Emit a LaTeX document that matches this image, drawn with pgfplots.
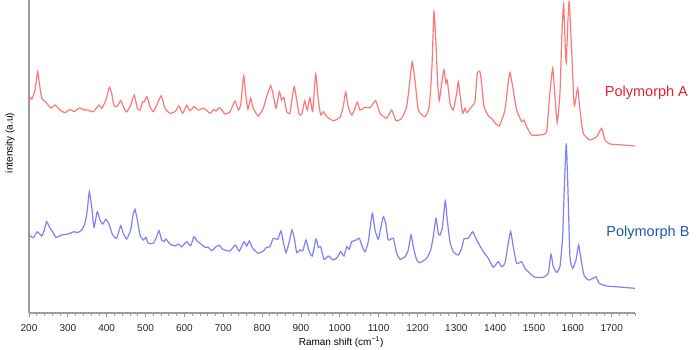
\documentclass[border=0pt]{standalone}
\usepackage{pgfplots}
\pgfplotsset{compat=1.18}
\usepackage{fontspec}
\setmainfont{Liberation Sans}
\definecolor{lineA}{RGB}{255,120,120}
\definecolor{lineB}{RGB}{128,128,250}
\definecolor{txtA}{RGB}{232,30,40}
\definecolor{txtB}{RGB}{25,90,170}
\definecolor{axgray}{RGB}{155,155,155}
\begin{document}
\begin{tikzpicture}[x=1pt,y=1pt]
\path[use as bounding box] (0,0) rectangle (698,349);
\begin{axis}[
  at={(29pt,36pt)}, anchor=south west,
  scale only axis, width=606pt, height=313pt,
  xmin=200, xmax=1760, ymin=0, ymax=313,
  axis x line*=bottom, axis y line*=left,
  x axis line style={-}, y axis line style={-},
  axis line style={axgray, line width=1.3pt},
  ytick=\empty,
  xtick={200,300,...,1700},
  minor xtick={220,240,...,1760},
  tick align=outside,
  major tick length=4pt, minor tick length=2.5pt,
  every tick/.style={axgray, line width=0.8pt},
  /pgf/number format/assume math mode=true,
  /pgf/number format/1000 sep={},
  ticklabel style={font=\fontsize{10}{12}\selectfont, text=black!85},
  xticklabel style={yshift=-4pt},
  xlabel={Raman shift (cm\textsuperscript{−1})},
  ylabel={intensity (a.u)},
  label style={font=\fontsize{10}{12}\selectfont, text=black!85},
  every axis x label/.style={at={(axis description cs:0.515,-0.094)}, anchor=center},
  every axis y label/.style={at={(axis description cs:-0.0314,0.543)}, anchor=center, rotate=90},
  clip=false,
]
\addplot[lineA, line width=1.2pt, smooth, tension=0.3] table {
200.8 217
207 213.7
215.4 223
222.4 241.3
226.5 230
232.7 215
245.6 210
255.9 205
266.9 208
279.8 203
292.7 200.3
305.5 203.7
315.8 201.3
329.5 205
341.6 203
350 203
365.5 201.3
380.2 208
387.1 204.7
398.2 213
406.7 225.7
412.9 219.7
418.8 207
427.3 207
436 212.3
444.5 205
451.5 201
461.8 208
471 218
478.8 204.7
485.7 203
492.7 211.3
496.8 211.3
503.7 216.3
511.5 206.3
520 201.3
528.7 208
540.5 217.3
550 204.7
562.9 199.7
575.8 201.3
586.1 207
595.6 199.7
605.9 207.7
614.4 202.3
624.7 206.3
635.8 203
650.5 204.7
665.9 199.7
676.2 203.7
681.3 202
691.6 205.3
704.5 199
717.4 201.3
730.2 212
738.7 203
744.9 208
752.6 237
758.6 216.3
763.7 203.7
770.6 214.7
777.3 204.7
790.2 197
803.1 204.7
811.8 216.3
822.1 227.3
828.8 218
835.8 204.7
844.3 221.3
850.4 213
856.4 215.3
863.3 201.3
871.8 199.7
877.7 216.3
882.9 226.3
889.1 213
895.8 198
902.7 199.7
909.6 212
916.3 203
923.3 215.3
930.2 201.3
938 239
944.7 213
950.8 198
957.5 201.3
966.3 196.3
983.3 192.3
1000.5 195.7
1009 206.3
1015.2 221
1021.9 206
1030.6 198
1037.3 203
1045 210.7
1052 203
1064.9 205.7
1077.7 205.3
1092.4 212.3
1103.5 199.7
1120.7 194.7
1133.6 203
1144.7 192.3
1159.3 194.7
1172.2 206.3
1180.7 233
1186.6 251.3
1193.6 233
1202.1 203
1219.3 196.3
1230.4 206.3
1237.3 246.3
1242.5 301.3
1247.6 269.7
1252 229.7
1256.1 212.3
1262.3 229.7
1268.2 243
1273.4 229.7
1276.7 233
1283.7 209.7
1292.2 203
1300.9 219.7
1305.1 231.3
1311.2 213
1316.4 199.7
1322.3 204.7
1326.7 200.3
1339.5 206.3
1348 211.3
1353.9 239.7
1360.9 241.3
1365.2 229.7
1371.2 206.3
1384 196.3
1391 194.7
1396.9 191.3
1410.5 187
1425.2 203
1432.2 226.3
1438.1 240.3
1446.6 223
1455.3 203
1468.2 191.3
1474.1 193
1481.1 186.3
1493.9 178
1515.3 178
1532.5 181.3
1539.2 213
1548 244.7
1553.9 216.3
1559.8 190.3
1566.8 219.7
1571.9 279.7
1576.3 309
1580.4 266.3
1583 250.7
1587.4 293
1590.7 311.3
1596.9 263
1603.6 207.3
1612.3 224.7
1618.3 203
1626.8 179.7
1644 173
1661.3 176.3
1674.1 184.7
1682.6 173
1695.5 169
1729.7 168
1759.8 167
};
\addplot[lineB, line width=1.2pt, smooth, tension=0.3] table {
200.8 78
211.1 75.3
221.4 81.3
232.7 77
239.4 83
245.6 91.3
254.1 84.7
261 81.3
269.5 75.7
284.2 78
301.2 79
315.8 81.3
324.3 80.3
335.6 83
344.1 89.7
350.1 103
355.2 121.3
361.4 106.3
367.3 85.7
375.8 101.3
382.8 93
389.7 89
398.2 93.7
406.7 88
415.4 78
425.7 74.7
436 87.3
442.7 79.7
451.5 74
461.8 83
466.9 96.3
472.8 103.7
478.8 93
485.7 78
494.2 73
501.2 75.7
507.1 69.7
520 69.7
528.7 76.3
534.6 82.3
541.6 73
547.5 71.3
552.6 74
562.9 69
575.8 67
584.3 69
593 66.3
605.9 71.3
616.2 67.3
624.7 76.3
631.7 72.3
640.2 69.7
653 65.7
661.5 65.7
670.3 62.3
681.3 66.3
689.8 67.7
698.6 63.7
717.4 62
731 68
741.3 62
753.4 71.3
760.4 67
767.1 72
775.8 64.7
790.2 59.7
803.1 62
811.8 65.7
820.3 66.3
828.8 74.7
840.2 73.7
848.6 82
854.6 71.3
861.5 60.3
870 71.3
877 83
883.9 73
889.1 60.3
897.6 63
904.5 62
913 73
920 63
929.2 57
938.7 74
944.7 65.7
950.8 66.3
959.3 53.7
970.4 57
983.3 53
993.6 55.7
1002.3 61.3
1010.8 57
1017.7 66.3
1024.4 63.7
1030.6 71.3
1039.1 72.3
1050.2 74.7
1056.3 68
1064.9 61.3
1073.4 71.3
1083.7 99.7
1090.6 83
1099.1 73.7
1105.3 84.7
1112 96.3
1118.2 89.7
1124.8 73
1137.7 74.7
1146.5 59.7
1155 53.7
1167.8 56.3
1176.3 63
1183.3 78
1189.2 66.3
1198 53
1206.4 50.3
1223.7 54.7
1234 63
1240.7 76.3
1247.6 94.7
1253.5 79.7
1257.9 78
1263.8 84.7
1271.6 112.3
1276.7 93
1283.7 71.3
1292.2 61.3
1305.1 58
1313.8 64.7
1319.8 74
1330.9 74.7
1342.1 81.3
1352.4 73
1369.5 61.3
1382.4 54.7
1395.1 45.7
1408 51.3
1416.7 46.3
1425.2 49.7
1433.7 69.7
1440 81.3
1446.6 66.3
1455.3 49.7
1468.2 51.3
1476.7 44.7
1489.6 39.7
1502.4 35.7
1523.8 35.7
1536.7 39.7
1543.6 58.7
1549.6 46.3
1558.3 40.7
1566.8 46.3
1573.7 76.3
1577.8 123
1583 169.5
1587.4 123
1592.5 56.3
1599.5 44.7
1608 53
1614.9 68
1620 56.3
1628.6 38
1639.6 33
1652.5 34.7
1659.5 36.3
1668 29.7
1687 27
1729.7 25.7
1759.8 24.7
};
\node[anchor=west, text=txtA, font=\fontsize{14.5}{16}\selectfont, inner sep=0pt] at (axis cs:1682,220) {Polymorph A};
\node[anchor=west, text=txtB, font=\fontsize{14.5}{16}\selectfont, inner sep=0pt] at (axis cs:1686,80) {Polymorph B};
\end{axis}
\end{tikzpicture}
\end{document}
